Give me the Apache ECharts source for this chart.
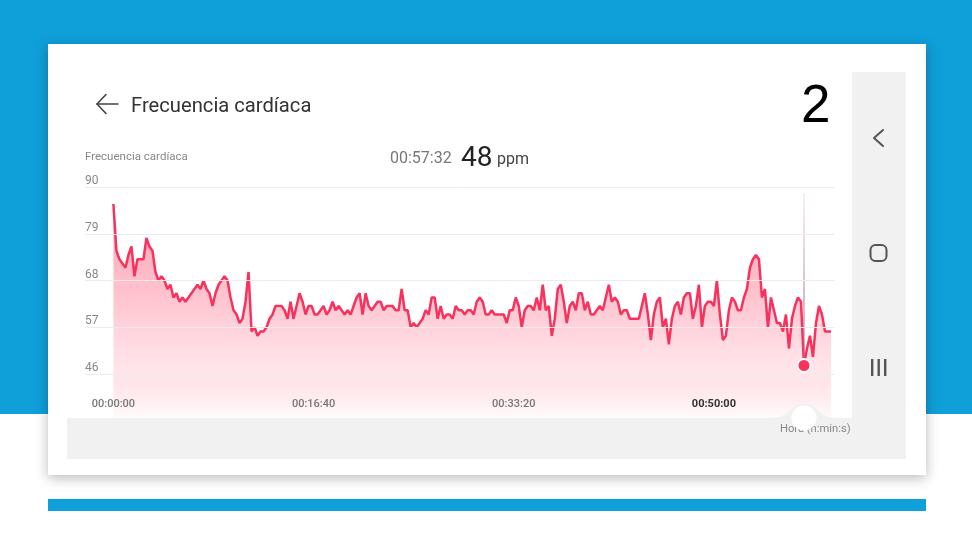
<!DOCTYPE html>
<html>
<head>
<meta charset="utf-8">
<title>Frecuencia cardíaca</title>
<script src="https://cdn.jsdelivr.net/npm/echarts@6/dist/echarts.min.js"></script>
<style>
html, body { margin: 0; padding: 0; background: #fff; }
#chart { width: 972px; height: 547px; }
</style>
</head>
<body>
<div id="chart"></div>
<script>
// heart rate, one reading every 15 s
var stepSeconds = 15;
var heartRate = [
    86,75,73,72,71,74,76,69,73,73,73,78,76,75,70,68,69,68,66,67,
    64,65,63,64,63,64,65,66,67,66,68,66,65,62,65,67,68,69,68,64,
    61,60,58,59,63,70,56,57,55,56,56,57,59,60,62,62,62,61,59,63,
    59,62,65,63,60,62,62,60,60,61,62,60,61,63,61,62,61,60,61,60,
    62,64,65,60,65,62,61,62,63,63,61,62,62,62,61,61,66,61,61,57,
    58,57,58,59,61,60,64,64,59,62,59,60,60,59,62,61,61,60,61,61,
    60,63,64,63,60,60,61,60,60,60,60,58,61,61,64,62,57,61,62,62,
    61,64,61,67,61,62,55,59,66,67,63,58,62,63,61,65,65,61,63,60,
    60,61,62,61,64,67,63,64,63,60,61,61,59,59,59,59,62,65,60,54,
    60,63,64,57,59,53,59,62,63,60,64,65,65,59,62,67,57,62,63,63,
    62,68,60,54,55,61,64,63,61,61,64,66,71,73,74,73,64,66,57,64,
    61,58,58,56,60,52,59,62,64,63,48,52,55,50,58,62,60,56,56,56
];
var seconds = heartRate.map(function (v, i) { return i * stepSeconds; });
var xTicks = [0, 1000, 2000, 3000];
var xTickLabels = ['00:00:00', '00:16:40', '00:33:20', '00:50:00'];
var yTicks = [46, 57, 68, 79, 90];
var selectedIndex = 230;
var selectedTop = 88.6;

var chart = echarts.init(document.getElementById('chart'));
var font = 'Roboto';

var text = function (x, y, str, size, color, family) {
    return {
        type: 'text', z: 20,
        style: { x: x, y: y, text: str, fontSize: size, fontFamily: family || font, fill: color, verticalAlign: 'middle' }
    };
};
var stroke = function (points, color, width) {
    return {
        type: 'polyline', z: 20,
        shape: { points: points },
        style: { fill: null, stroke: color, lineWidth: width, lineCap: 'round', lineJoin: 'round' }
    };
};
var box = function (x, y, w, h, color, z) {
    return { type: 'rect', z: z, shape: { x: x, y: y, width: w, height: h }, style: { fill: color } };
};

var graphics = [
    // slide background
    box(0, 414, 972, 133, '#ffffff', -10),
    { type: 'rect', z: -9, shape: { x: 48, y: 44, width: 878, height: 431 },
      style: { fill: '#fff', shadowBlur: 12, shadowColor: 'rgba(0,0,0,0.28)', shadowOffsetY: 3 } },
    box(48, 499, 878, 12, '#0f9fd9', -9),
    // phone navigation bars
    box(852, 72, 54, 387, '#f1f1f1', 10),
    box(67, 418, 839, 41, '#f1f1f1', 10),
    box(832, 380, 20, 38, '#ffffff', 9),
    { type: 'polygon', z: 10,
      shape: { points: [[768, 418], [776, 417.6], [782, 416], [787, 413], [792, 408.5], [797, 404.8], [804, 403.4],
                        [811, 404.8], [816, 408.5], [821, 413], [826, 416], [832, 417.6], [840, 418]] },
      style: { fill: '#f1f1f1' } },
    text(780, 429, 'Hora (h:min:s)', 11.2, '#8a8a8a'),
    { type: 'circle', z: 21, shape: { cx: 804, cy: 418, r: 12.5 }, style: { fill: '#ffffff' } },
    stroke([[883, 130], [874, 138], [883, 146]], '#555', 2),
    { type: 'rect', z: 20, shape: { x: 870.5, y: 245, width: 16, height: 16, r: 5 },
      style: { fill: null, stroke: '#555', lineWidth: 2 } },
    box(871, 359, 2.4, 17, '#555', 20),
    box(877.5, 359, 2.4, 17, '#555', 20),
    box(884, 359, 2.4, 17, '#555', 20),
    // header
    stroke([[97, 104], [118, 104]], '#444', 1.6),
    stroke([[106, 94.5], [97, 104], [106, 113.5]], '#444', 1.6),
    text(131, 106.5, 'Frecuencia cardíaca', 20.2, '#333'),
    text(85, 157, 'Frecuencia cardíaca', 11.5, '#888'),
    text(390, 159, '00:57:32', 16, '#777'),
    text(461, 158.5, '48', 28, '#222'),
    text(497, 159.5, 'ppm', 16, '#444'),
    text(801, 107, '2', 53, '#000', 'Liberation Sans')
];

var option = {
    animation: false,
    backgroundColor: '#0f9fd9',
    grid: { left: 85, right: 138, top: 187, bottom: 126.25 },
    graphic: { elements: graphics },
    xAxis: {
        type: 'value',
        min: -142,
        max: 3600,
        z: 6,
        axisLine: { show: false },
        axisTick: { show: false },
        splitLine: { show: false },
        axisLabel: {
            inside: true,
            margin: 11,
            customValues: xTicks,
            fontFamily: font,
            fontSize: 11,
            fontWeight: 500,
            color: '#777',
            formatter: function (v) {
                var s = xTickLabels[xTicks.indexOf(v)];
                return v === 3000 ? '{on|' + s + '}' : s;
            },
            rich: { on: { fontFamily: font, fontSize: 11, fontWeight: 700, color: '#333' } }
        }
    },
    yAxis: {
        type: 'value',
        min: 35,
        max: 90,
        z: 6,
        axisLine: { show: false },
        axisTick: { show: false },
        splitLine: { show: false },
        axisLabel: {
            inside: true,
            margin: 0,
            customValues: yTicks,
            verticalAlign: 'bottom',
            lineHeight: 12,
            fontFamily: font,
            fontSize: 12,
            color: '#888'
        }
    },
    series: [
        {
            // grid lines, drawn under the area so they show through it
            type: 'line',
            silent: true,
            data: [],
            markLine: {
                silent: true,
                symbol: 'none',
                label: { show: false },
                lineStyle: { color: '#ececec', width: 1, type: 'solid' },
                data: yTicks.map(function (v) { return { yAxis: v }; })
            },
            z: 1
        },
        {
            type: 'line',
            data: seconds.map(function (t, i) { return [t, heartRate[i]]; }),
            showSymbol: false,
            lineStyle: { color: '#f8325c', width: 2.5 },
            itemStyle: { color: '#f8325c' },
            areaStyle: {
                opacity: 1,
                color: new echarts.graphic.LinearGradient(0, 0, 0, 1, [
                    { offset: 0, color: 'rgba(255,120,145,0.72)' },
                    { offset: 0.45, color: 'rgba(255,150,170,0.55)' },
                    { offset: 0.75, color: 'rgba(255,190,203,0.42)' },
                    { offset: 1, color: 'rgba(255,255,255,0.9)' }
                ])
            },
            z: 3
        },
        {
            type: 'line',
            data: [[seconds[selectedIndex], selectedTop], [seconds[selectedIndex], heartRate[selectedIndex]]],
            showSymbol: false,
            lineStyle: {
                width: 1.2,
                color: new echarts.graphic.LinearGradient(0, 0, 0, 1, [
                    { offset: 0, color: 'rgba(200,150,170,0.25)' },
                    { offset: 0.6, color: 'rgba(180,110,140,0.8)' },
                    { offset: 1, color: 'rgba(180,100,130,0.9)' }
                ])
            },
            z: 4
        },
        {
            type: 'scatter',
            data: [[seconds[selectedIndex], heartRate[selectedIndex]]],
            symbolSize: 13,
            itemStyle: { color: '#f8325c', borderColor: '#fff', borderWidth: 2, opacity: 1 },
            z: 5
        }
    ]
};
chart.setOption(option);
</script>
</body>
</html>
